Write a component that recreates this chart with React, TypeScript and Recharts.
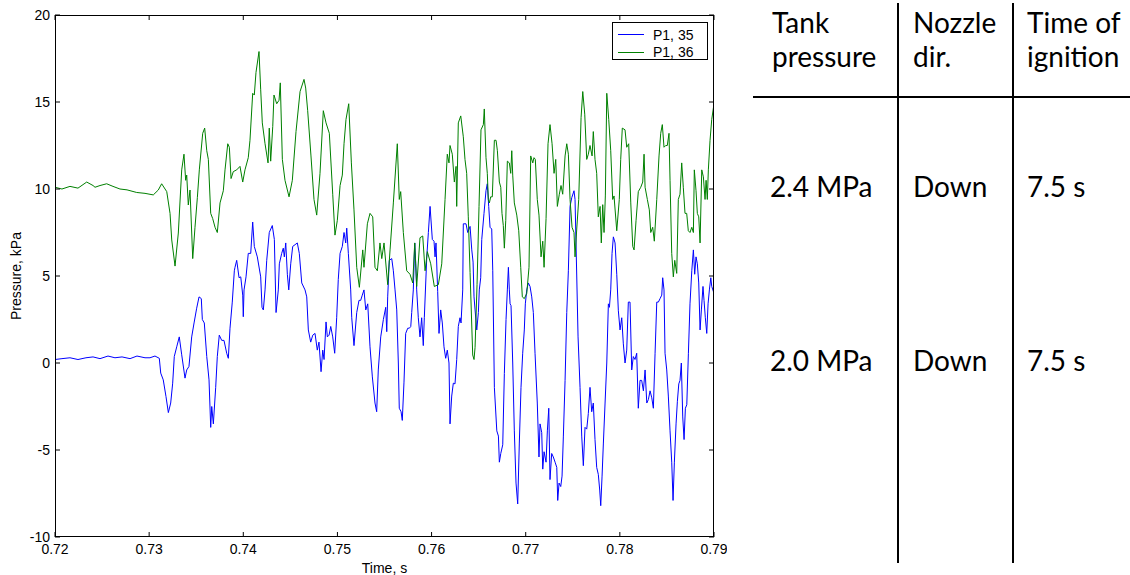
import React from 'react';
import { LineChart, Line, XAxis, YAxis, Legend } from 'recharts';

// Time stamps are in milliseconds, pressures in kPa.
const TIME_35 = [
  720.0, 720.74, 721.59, 722.44, 723.29, 724.04, 724.78, 725.63, 726.37, 727.12,
  727.97, 728.71, 729.56, 730.09, 730.62, 731.08, 731.23, 731.5, 731.79, 732.04,
  732.29, 732.5, 732.67, 732.93, 733.2, 733.46, 733.81, 733.99, 734.23, 734.52,
  734.77, 735.05, 735.3, 735.54, 735.65, 735.86, 736.12, 736.36, 736.54, 736.65,
  736.82, 737.07, 737.24, 737.45, 737.71, 737.95, 738.24, 738.41, 738.59, 738.83,
  739.05, 739.12, 739.3, 739.55, 739.73, 739.94, 740.0, 740.08, 740.29, 740.53,
  740.79, 741.0, 741.17, 741.49, 741.85, 741.99, 742.13, 742.31, 742.49, 742.76,
  743.08, 743.3, 743.48, 743.72, 743.83, 744.08, 744.25, 744.36, 744.51, 744.68,
  744.83, 745.04, 745.25, 745.5, 745.74, 745.95, 746.21, 746.56, 746.74, 746.91,
  747.16, 747.38, 747.62, 747.86, 748.04, 748.26, 748.44, 748.58, 748.79, 748.93,
  749.11, 749.29, 749.5, 749.71, 749.92, 750.09, 750.28, 750.52, 750.7, 750.88,
  750.99, 751.16, 751.41, 751.52, 751.76, 752.05, 752.29, 752.47, 752.64, 752.82,
  753.01, 753.22, 753.46, 753.71, 753.99, 754.17, 754.34, 754.6, 754.88, 755.13,
  755.24, 755.34, 755.51, 755.77, 755.94, 756.12, 756.3, 756.47, 756.57, 756.76,
  756.89, 757.07, 757.25, 757.47, 757.64, 757.79, 757.89, 758.06, 758.21, 758.32,
  758.42, 758.59, 758.77, 758.95, 759.12, 759.23, 759.49, 759.66, 759.84, 760.08,
  760.26, 760.37, 760.47, 760.65, 760.79, 760.97, 761.14, 761.32, 761.5, 761.67,
  761.85, 761.96, 762.14, 762.31, 762.49, 762.67, 762.84, 763.02, 763.13, 763.31,
  763.37, 763.66, 763.84, 764.09, 764.27, 764.41, 764.51, 764.62, 764.8, 764.97,
  765.07, 765.22, 765.33, 765.57, 765.78, 765.92, 766.07, 766.21, 766.39, 766.5,
  766.67, 766.93, 767.1, 767.2, 767.35, 767.56, 767.73, 767.91, 768.05, 768.16,
  768.26, 768.34, 768.44, 768.62, 768.79, 768.97, 769.15, 769.32, 769.5, 769.68,
  769.85, 769.96, 770.11, 770.28, 770.46, 770.64, 770.81, 770.99, 771.23, 771.41,
  771.52, 771.7, 771.81, 771.95, 772.16, 772.3, 772.45, 772.58, 772.76, 772.93,
  773.12, 773.3, 773.4, 773.54, 773.72, 773.86, 774.0, 774.18, 774.36, 774.53,
  774.71, 774.89, 775.13, 775.24, 775.42, 775.56, 775.77, 775.95, 776.12, 776.3,
  776.48, 776.65, 776.83, 777.01, 777.18, 777.36, 777.54, 777.71, 777.86, 777.97,
  778.11, 778.25, 778.43, 778.61, 778.78, 778.89, 779.03, 779.17, 779.31, 779.49,
  779.67, 779.84, 780.02, 780.2, 780.37, 780.55, 780.73, 780.9, 781.08, 781.26,
  781.43, 781.61, 781.79, 781.96, 782.14, 782.32, 782.5, 782.68, 782.86, 783.03,
  783.21, 783.39, 783.56, 783.74, 783.92, 784.09, 784.27, 784.45, 784.55, 784.69,
  784.8, 784.98, 785.15, 785.33, 785.51, 785.65, 785.79, 785.97, 786.11, 786.26,
  786.39, 786.53, 786.68, 786.82, 786.96, 787.11, 787.28, 787.45, 787.64, 787.81,
  787.95, 788.09, 788.23, 788.38, 788.52, 788.66, 788.83, 788.94, 789.08, 789.23,
  789.37, 789.51, 789.66, 789.76, 790.0,
];

const P1_35 = [
  0.2, 0.25, 0.3, 0.2, 0.3, 0.35, 0.25, 0.4, 0.3, 0.35,
  0.25, 0.4, 0.3, 0.3, 0.4, 0.27, -0.58, -0.97, -1.93, -2.85,
  -2.3, -1.16, 0.37, 0.93, 1.5, 0.47, -0.87, -0.4, -0.2, 1.5,
  2.3, 3.15, 3.8, 3.7, 2.5, 2.3, 0.37, -0.97, -3.7, -2.5,
  -3.5, -1.4, 0.37, 1.6, 1.3, 1.3, 0.56, 0.27, 2.0, 3.5,
  5.3, 5.5, 5.9, 4.9, 4.95, 3.9, 2.66, 4.2, 4.95, 6.3,
  6.3, 8.1, 6.7, 6.1, 4.95, 3.2, 3.05, 4.2, 5.9, 7.5,
  7.9, 7.1, 2.9, 4.2, 5.7, 6.3, 6.6, 6.1, 6.9, 5.1,
  4.2, 5.7, 6.7, 6.8, 6.9, 6.3, 4.6, 4.2, 3.8, 1.9,
  1.2, 1.6, 1.7, 0.74, 1.2, -0.5, 0.74, 0.2, 2.36, 1.5,
  1.6, 2.1, 1.5, 0.56, 2.6, 4.8, 6.3, 6.7, 7.5, 6.9,
  7.75, 6.3, 4.2, 2.6, 1.0, 2.9, 3.6, 3.6, 3.9, 4.2,
  3.05, 3.4, 0.93, -0.8, -2.3, -2.8, -0.4, 1.5, 2.5, 3.2,
  1.8, 3.8, 5.9, 6.0, 5.3, 4.2, 3.05, 0, -2.6, -2.8,
  -3.3, -1.1, 1.7, 2.0, 2.0, 2.1, 2.9, 4.2, 6.9, 5.7,
  4.2, 2.6, 1.5, 2.6, 1.0, 2.6, 6.1, 7.5, 9.0, 7.1,
  7.0, 6.1, 6.9, 4.1, 1.7, 3.05, 2.3, 0.93, 0.27, 0.74,
  0, -3.5, -1.9, -1.16, -1.2, 0.2, 2.1, 2.6, 2.3, 4.2,
  8.0, 8.0, 7.5, 7.85, 6.5, 5.8, 3.8, 3.05, 1.9, 2.9,
  4.2, 4.9, 7.1, 8.6, 9.9, 10.3, 9.0, 7.8, 7.7, 5.3,
  -1.4, -3.9, -4.2, -5.7, -5.2, -4.7, -0.6, 2.5, 4.2, 5.5,
  4.2, 3.4, 3.3, 0, -3.9, -6.9, -8.1, -4.6, -1.4, 0.56,
  1.9, 3.4, 4.2, 4.6, 4.4, 3.8, 2.9, 0.56, -2.3, -5.4,
  -3.5, -4.0, -6.1, -5.1, -5.7, -3.9, -2.6, -6.7, -5.2, -5.4,
  -5.7, -6.0, -7.9, -6.9, -7.1, -6.5, -4.2, -1.0, 2.9, 5.3,
  9.0, 9.5, 9.9, 9.4, 5.0, 1.5, -1.4, -4.2, -5.9, -3.7,
  -3.8, -2.9, -1.4, -2.8, -2.3, -4.4, -6.0, -6.4, -7.3, -8.2,
  -6.5, -4.6, -2.3, 0, 3.4, 3.2, 4.2, 6.3, 7.25, 6.9,
  5.1, 3.0, 1.9, 2.6, 1.1, 0, 0.74, 3.5, 3.5, -0.4,
  0.37, 0.2, 0.56, -2.6, -1.0, -1.0, -1.6, -0.4, -2.3, -2.1,
  -1.6, -2.0, -2.6, 0.56, 3.5, 3.5, 3.7, 3.9, 4.9, 4.2,
  0.56, -0.4, -1.9, -3.9, -5.7, -7.9, -5.7, -3.5, -2.2, -1.2,
  -1.0, 0, -3.1, -4.4, -2.6, -2.4, 0.56, 3.4, 5.3, 6.5,
  5.1, 6.1, 5.7, 4.6, 1.9, 3.05, 4.4, 3.6, 2.6, 1.7,
  3.4, 4.2, 4.9, 4.4, 4.0,
];

const TIME_36 = [
  720.0, 720.74, 721.59, 722.44, 723.37, 724.04, 724.25, 724.78, 725.49, 726.16,
  726.9, 727.65, 728.68, 729.56, 730.44, 730.97, 731.33, 731.87, 732.22, 732.4,
  732.75, 733.1, 733.46, 733.7, 733.88, 733.99, 734.16, 734.34, 734.63, 734.87,
  735.12, 735.33, 735.69, 735.9, 736.12, 736.29, 736.54, 736.75, 737.0, 737.24,
  737.53, 737.88, 738.06, 738.35, 738.52, 738.7, 738.94, 739.3, 739.65, 739.94,
  740.18, 740.53, 740.71, 741.0, 741.17, 741.35, 741.67, 741.85, 742.02, 742.31,
  742.63, 742.76, 742.91, 743.13, 743.26, 743.55, 743.8, 743.93, 744.15, 744.43,
  744.86, 745.21, 745.6, 746.03, 746.45, 746.63, 746.84, 747.19, 747.51, 747.8,
  748.15, 748.5, 748.79, 749.14, 749.5, 749.74, 749.99, 750.28, 750.52, 750.7,
  750.91, 751.2, 751.48, 751.76, 752.05, 752.33, 752.69, 752.82, 753.18, 753.46,
  753.75, 753.99, 754.24, 754.52, 754.71, 754.95, 755.34, 755.59, 755.94, 756.36,
  756.57, 756.72, 757.0, 757.36, 757.71, 758.0, 758.21, 758.42, 758.77, 759.06,
  759.31, 759.55, 759.91, 760.29, 760.72, 761.08, 761.43, 761.67, 761.85, 761.96,
  762.2, 762.42, 762.6, 762.67, 762.84, 763.1, 763.37, 763.55, 763.73, 763.9,
  764.09, 764.37, 764.51, 764.62, 764.83, 765.04, 765.25, 765.5, 765.6, 765.78,
  765.92, 766.03, 766.14, 766.28, 766.45, 766.67, 766.85, 766.99, 767.2, 767.35,
  767.48, 767.62, 767.73, 767.88, 768.05, 768.26, 768.41, 768.52, 768.62, 768.79,
  769.05, 769.26, 769.47, 769.64, 769.85, 770.11, 770.35, 770.53, 770.75, 770.88,
  771.02, 771.23, 771.41, 771.63, 771.81, 771.95, 772.16, 772.37, 772.58, 772.8,
  773.01, 773.19, 773.36, 773.57, 773.75, 773.93, 774.18, 774.36, 774.53, 774.71,
  774.92, 775.13, 775.24, 775.42, 775.63, 775.88, 776.06, 776.27, 776.48, 776.65,
  776.83, 777.05, 777.18, 777.36, 777.54, 777.71, 777.9, 778.03, 778.18, 778.32,
  778.46, 778.61, 778.82, 779.03, 779.24, 779.38, 779.67, 779.94, 780.09, 780.26,
  780.55, 780.73, 780.94, 781.16, 781.37, 781.51, 781.72, 781.96, 782.22, 782.43,
  782.57, 782.68, 782.92, 783.13, 783.28, 783.49, 783.66, 783.92, 784.16, 784.34,
  784.51, 784.69, 784.87, 785.04, 785.22, 785.33, 785.51, 785.68, 785.83, 786.04,
  786.21, 786.39, 786.57, 786.74, 786.92, 787.1, 787.27, 787.45, 787.64, 787.81,
  787.91, 788.09, 788.23, 788.38, 788.52, 788.7, 788.87, 789.05, 789.16, 789.29,
  789.4, 789.58, 789.76, 790.0,
];

const P1_36 = [
  10.1, 10.0, 10.15, 10.05, 10.4, 10.2, 10.1, 10.2, 10.3, 10.15,
  10.0, 9.95, 9.8, 9.75, 9.66, 9.94, 10.3, 9.85, 8.6, 7.07,
  5.57, 7.47, 11.1, 12.0, 10.5, 10.8, 9.08, 9.94, 6.0, 7.8,
  9.5, 11.1, 13.2, 13.5, 12.2, 11.7, 8.6, 8.3, 7.8, 7.5,
  9.2, 9.9, 11.1, 12.6, 12.4, 10.6, 11.0, 11.1, 11.3, 10.4,
  11.1, 11.8, 12.8, 15.5, 15.4, 16.7, 17.9, 15.7, 13.8, 12.6,
  11.5, 13.5, 11.6, 13.6, 15.4, 14.9, 15.1, 16.1, 11.7, 10.5,
  9.55, 10.5, 13.3, 15.6, 16.3, 15.8, 14.5, 11.9, 9.4, 8.5,
  10.9, 14.5, 13.8, 13.2, 9.7, 7.35, 8.2, 10.2, 10.8, 12.6,
  14.0, 14.9, 11.5, 8.8, 5.5, 4.35, 6.5, 5.5, 8.0, 8.6,
  8.4, 5.5, 5.3, 6.9, 6.0, 6.9, 4.5, 6.5, 9.2, 12.6,
  9.4, 9.85, 7.5, 5.3, 5.1, 4.6, 6.9, 4.4, 7.2, 7.3,
  5.3, 6.4, 5.7, 4.4, 4.5, 5.7, 9.4, 12.0, 11.5, 12.5,
  12.0, 10.4, 11.3, 9.0, 13.8, 14.2, 13.0, 11.7, 10.9, 8.4,
  5.2, 0.46, 0.2, 0.9, 4.5, 9.0, 13.4, 13.7, 14.6, 11.8,
  10.9, 9.4, 9.2, 9.55, 9.55, 12.8, 12.8, 12.2, 10.4, 10.1,
  8.6, 7.9, 6.6, 8.2, 11.6, 11.5, 10.9, 12.2, 10.8, 9.2,
  8.5, 7.6, 5.5, 3.8, 3.7, 4.0, 5.5, 11.9, 11.5, 11.8,
  11.7, 9.4, 8.5, 6.1, 7.0, 5.5, 8.3, 12.6, 13.7, 12.6,
  10.9, 11.7, 9.0, 9.7, 10.2, 9.7, 11.9, 12.6, 12.0, 9.4,
  7.8, 7.5, 6.1, 7.7, 9.4, 14.1, 15.6, 14.3, 11.7, 12.0,
  12.5, 11.9, 13.3, 11.7, 10.9, 8.4, 9.0, 6.9, 9.1, 7.5,
  9.6, 15.5, 14.0, 12.2, 9.4, 9.6, 7.6, 9.4, 11.7, 13.5,
  13.4, 12.4, 12.6, 9.2, 6.7, 6.5, 8.2, 9.85, 10.1, 10.4,
  12.0, 10.1, 9.4, 8.8, 7.5, 7.8, 7.0, 9.4, 11.9, 13.2,
  13.7, 12.4, 12.5, 12.5, 13.2, 10.5, 6.3, 4.95, 5.9, 5.15,
  9.4, 9.7, 11.5, 10.1, 8.6, 8.6, 7.6, 7.5, 7.8, 7.5,
  11.1, 9.9, 8.6, 8.4, 6.9, 11.1, 10.7, 9.4, 10.5, 9.4,
  11.1, 12.8, 14.0, 14.9,
];

const X_TICKS = [720, 730, 740, 750, 760, 770, 780, 790];
const Y_TICKS = [-10, -5, 0, 5, 10, 15, 20];

const TABLE_HEAD = [
  ['Tank', 'pressure'],
  ['Nozzle', 'dir.'],
  ['Time of', 'ignition'],
];
const TABLE_ROWS = [
  ['2.4 MPa', 'Down', '7.5 s'],
  ['2.0 MPa', 'Down', '7.5 s'],
];

const zip = (t: number[], p: number[]) =>
  t.slice(0, Math.min(t.length, p.length)).map((time, i) => ({ time, p: p[i] }));

const series35 = zip(TIME_35, P1_35);
const series36 = zip(TIME_36, P1_36);

const FONT = '"Liberation Sans", Arial, Helvetica, sans-serif';
const TICK_FONT = 14;
const PLOT = { left: 55, top: 15, right: 714, bottom: 537 };
const TICK_LEN = 5;

const XTick = (props: any) => {
  const { x, payload } = props;
  return (
    <g>
      <line x1={x} x2={x} y1={PLOT.bottom} y2={PLOT.bottom - TICK_LEN} stroke="#000" />
      <line x1={x} x2={x} y1={PLOT.top} y2={PLOT.top + TICK_LEN} stroke="#000" />
      <text
        x={x}
        y={549}
        textAnchor="middle"
        dominantBaseline="central"
        fontSize={TICK_FONT}
        fontFamily={FONT}
        fill="#000"
      >
        {(payload.value / 1000).toFixed(2)}
      </text>
    </g>
  );
};

const YTick = (props: any) => {
  const { y, payload } = props;
  return (
    <g>
      <line x1={PLOT.left} x2={PLOT.left + TICK_LEN} y1={y} y2={y} stroke="#000" />
      <line x1={PLOT.right} x2={PLOT.right - TICK_LEN} y1={y} y2={y} stroke="#000" />
      <text
        x={PLOT.left - 5}
        y={y}
        textAnchor="end"
        dominantBaseline="central"
        fontSize={TICK_FONT}
        fontFamily={FONT}
        fill="#000"
      >
        {payload.value}
      </text>
    </g>
  );
};

const LegendBox = ({ payload }: any) => (
  <div
    style={{
      position: 'relative',
      width: 96,
      height: 38,
      border: '1px solid #000',
      background: '#fff',
      boxSizing: 'border-box',
      fontFamily: FONT,
      fontSize: TICK_FONT,
      color: '#000',
    }}
  >
    {(payload || []).map((entry: any, i: number) => (
      <div
        key={entry.value}
        style={{
          position: 'absolute',
          left: 5,
          top: 3 + i * 17.5,
          height: 17,
          display: 'flex',
          alignItems: 'center',
          whiteSpace: 'nowrap',
        }}
      >
        <svg width={26} height={3}>
          <line x1={0} x2={26} y1={1.5} y2={1.5} stroke={entry.color} strokeWidth={1} />
        </svg>
        <span style={{ marginLeft: 9 }}>{entry.value}</span>
      </div>
    ))}
  </div>
);

const ParamTable = () => {
  const colX = [772, 913, 1027];
  const tableFont = 'Lato, "Open Sans", sans-serif';
  return (
    <svg
      width={1130}
      height={575}
      style={{ position: 'absolute', left: 0, top: 0, pointerEvents: 'none' }}
    >
      <line x1={898} x2={898} y1={3} y2={563} stroke="#000" strokeWidth={2} />
      <line x1={1013} x2={1013} y1={3} y2={563} stroke="#000" strokeWidth={2} />
      <line x1={753} x2={1130} y1={97} y2={97} stroke="#000" strokeWidth={2} />
      {TABLE_HEAD.map((lines, c) =>
        lines.map((word, r) => (
          <text
            key={`h${c}${r}`}
            x={colX[c]}
            y={33 + r * 34}
            fontFamily={tableFont}
            fontSize={28}
            fill="#000"
          >
            {word}
          </text>
        )),
      )}
      {TABLE_ROWS.map((row, r) =>
        row.map((cell, c) => (
          <text
            key={`r${r}${c}`}
            x={c === 0 ? 770 : colX[c]}
            y={197 + r * 174}
            fontFamily={tableFont}
            fontSize={28}
            fill="#000"
          >
            {cell}
          </text>
        )),
      )}
    </svg>
  );
};

export default function App() {
  return (
    <div
      style={{
        position: 'absolute',
        left: 0,
        top: 0,
        width: 1130,
        height: 575,
        background: '#fff',
        overflow: 'hidden',
      }}
    >
      <div style={{ position: 'absolute', left: 0, top: 0, width: 727, height: 575, overflow: 'hidden' }}>
        <LineChart
          width={760}
          height={575}
          margin={{ top: PLOT.top, right: 760 - PLOT.right, bottom: 0, left: 0 }}
        >
          <XAxis
            dataKey="time"
            type="number"
            domain={[720, 790]}
            ticks={X_TICKS}
            allowDataOverflow
            height={575 - PLOT.bottom}
            axisLine={false}
            tickLine={false}
            tick={XTick}
            interval={0}
            label={{
              content: () => (
                <text
                  x={(PLOT.left + PLOT.right) / 2}
                  y={568}
                  textAnchor="middle"
                  dominantBaseline="central"
                  fontSize={TICK_FONT}
                  fontFamily={FONT}
                  fill="#000"
                >
                  Time, s
                </text>
              ),
            }}
          />
          <YAxis
            type="number"
            domain={[-10, 20]}
            ticks={Y_TICKS}
            allowDataOverflow
            width={PLOT.left}
            axisLine={false}
            tickLine={false}
            tick={YTick}
            interval={0}
            label={{
              content: () => (
                <text
                  x={16}
                  y={(PLOT.top + PLOT.bottom) / 2}
                  transform={`rotate(-90 16 ${(PLOT.top + PLOT.bottom) / 2})`}
                  textAnchor="middle"
                  dominantBaseline="central"
                  fontSize={TICK_FONT}
                  fontFamily={FONT}
                  fill="#000"
                >
                  Pressure, kPa
                </text>
              ),
            }}
          />
          {/* centred + middle keeps the legend from reserving plot space */}
          <Legend
            layout="horizontal"
            verticalAlign="middle"
            align="center"
            content={LegendBox}
            wrapperStyle={{ left: 612, top: 22, width: 96, height: 38 }}
          />
          <Line
            data={series35}
            dataKey="p"
            name="P1, 35"
            type="linear"
            stroke="#0000ff"
            strokeWidth={1}
            dot={false}
            isAnimationActive={false}
          />
          <Line
            data={series36}
            dataKey="p"
            name="P1, 36"
            type="linear"
            stroke="#008000"
            strokeWidth={1}
            dot={false}
            isAnimationActive={false}
          />
        </LineChart>
        <div
          style={{
            position: 'absolute',
            left: PLOT.left,
            top: PLOT.top,
            width: PLOT.right - PLOT.left,
            height: PLOT.bottom - PLOT.top,
            border: '1px solid #000',
            boxSizing: 'border-box',
            pointerEvents: 'none',
          }}
        />
      </div>
      <ParamTable />
    </div>
  );
}
